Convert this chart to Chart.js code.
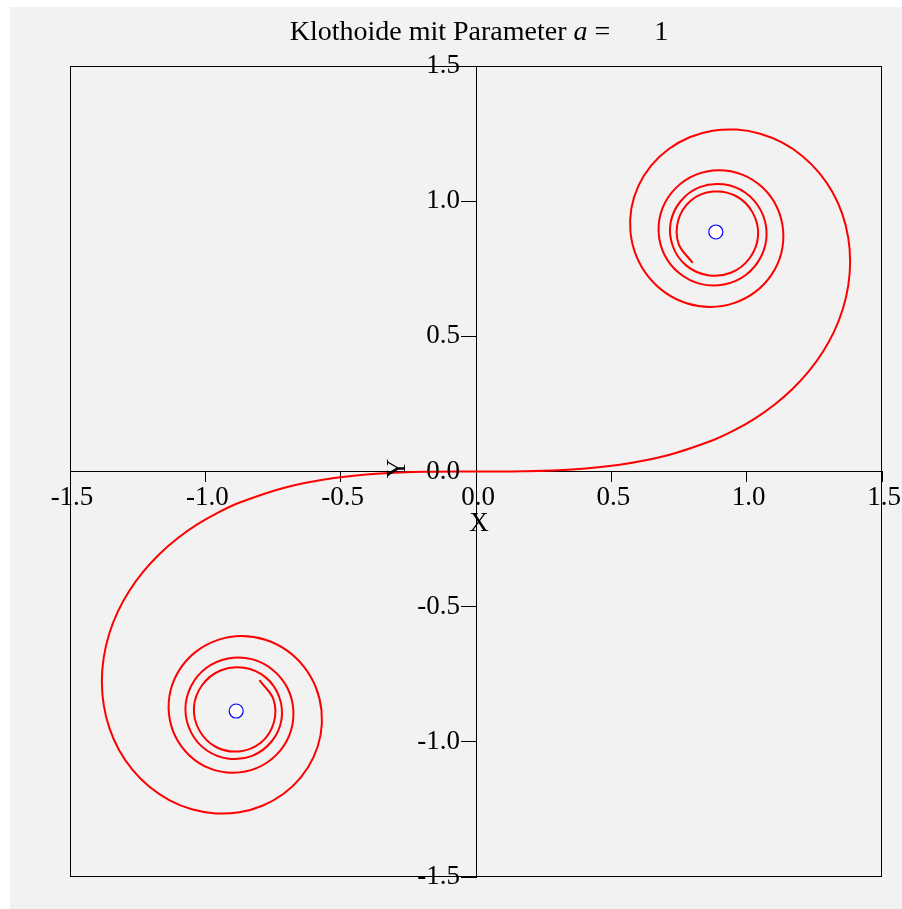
<!DOCTYPE html>
<html>
<head>
<meta charset="utf-8">
<title>Klothoide</title>
<script src="https://cdn.jsdelivr.net/npm/chart.js@4"></script>
<style>
  html, body { margin: 0; padding: 0; background: #fff; }
  canvas { display: block; }
</style>
</head>
<body>
<canvas id="klothoide" width="902" height="909"></canvas>
<script>
// Klothoide, a = 1: points along the arc, from the origin into the upper pole
const upperX = [
  0, 0.17723, 0.35435, 0.53067, 0.70452, 0.87265,
  0.95307, 1.02997, 1.10238, 1.16920, 1.22923, 1.28120, 1.32376, 1.35561, 1.37548, 1.38232,
  1.37523, 1.35380, 1.31789, 1.26808, 1.20539, 1.13180, 1.04974, 0.96262, 0.87427, 0.78920,
  0.71214, 0.64776, 0.60057, 0.57397, 0.57070, 0.59134, 0.63531, 0.69918, 0.77827, 0.86540,
  0.95254, 1.03079, 1.09149, 1.12779, 1.13442, 1.11055, 1.05795, 0.98364, 0.89706, 0.81074,
  0.73775, 0.68938, 0.67462, 0.69567, 0.75042, 0.82860, 0.91645, 0.99679, 1.05293, 1.07361,
  1.05265, 0.99541, 0.91346, 0.82653, 0.75602, 0.71909, 0.72725, 0.77721, 0.85717, 0.94396,
  1.01211, 1.04212, 1.02232, 0.96058, 0.87490, 0.79424, 0.74716, 0.74856, 0.80035
];
const upperY = [
  0, 0.00092, 0.00743, 0.02503, 0.05913, 0.11473,
  0.15193, 0.19593, 0.24697, 0.30511, 0.37025, 0.44194, 0.51953, 0.60203, 0.68844, 0.77680,
  0.86504, 0.95092, 1.03184, 1.10495, 1.16743, 1.21649, 1.24956, 1.26470, 1.26038, 1.23631,
  1.19295, 1.13240, 1.05768, 0.97343, 0.88513, 0.79927, 0.72265, 0.66175, 0.62249, 0.60870,
  0.62274, 0.66338, 0.72738, 0.80771, 0.89564, 0.98043, 1.05114, 1.09837, 1.11455, 1.09747,
  1.04827, 0.97483, 0.88816, 0.80289, 0.73404, 0.69397, 0.69165, 0.72696, 0.79447, 0.87969,
  0.96487, 1.03124, 1.06236, 1.05169, 0.99972, 0.92042, 0.83327, 0.76154, 0.72617, 0.73601,
  0.79067, 0.87259, 0.95761, 1.01912, 1.03533, 1.00253, 0.92918, 0.84215, 0.77206
];
// ... and from the origin into the lower pole
const lowerX = [
  0, -0.17723, -0.35435, -0.53067, -0.70452, -0.87265,
  -0.95307, -1.02997, -1.10238, -1.16920, -1.22923, -1.28120, -1.32376, -1.35561, -1.37548, -1.38232,
  -1.37523, -1.35380, -1.31789, -1.26808, -1.20539, -1.13180, -1.04974, -0.96262, -0.87427, -0.78920,
  -0.71214, -0.64776, -0.60057, -0.57397, -0.57070, -0.59134, -0.63531, -0.69918, -0.77827, -0.86540,
  -0.95254, -1.03079, -1.09149, -1.12779, -1.13442, -1.11055, -1.05795, -0.98364, -0.89706, -0.81074,
  -0.73775, -0.68938, -0.67462, -0.69567, -0.75042, -0.82860, -0.91645, -0.99679, -1.05293, -1.07361,
  -1.05265, -0.99541, -0.91346, -0.82653, -0.75602, -0.71909, -0.72725, -0.77721, -0.85717, -0.94396,
  -1.01211, -1.04212, -1.02232, -0.96058, -0.87490, -0.79424, -0.74716, -0.74856, -0.80035
];
const lowerY = [
  0, -0.00092, -0.00743, -0.02503, -0.05913, -0.11473,
  -0.15193, -0.19593, -0.24697, -0.30511, -0.37025, -0.44194, -0.51953, -0.60203, -0.68844, -0.77680,
  -0.86504, -0.95092, -1.03184, -1.10495, -1.16743, -1.21649, -1.24956, -1.26470, -1.26038, -1.23631,
  -1.19295, -1.13240, -1.05768, -0.97343, -0.88513, -0.79927, -0.72265, -0.66175, -0.62249, -0.60870,
  -0.62274, -0.66338, -0.72738, -0.80771, -0.89564, -0.98043, -1.05114, -1.09837, -1.11455, -1.09747,
  -1.04827, -0.97483, -0.88816, -0.80289, -0.73404, -0.69397, -0.69165, -0.72696, -0.79447, -0.87969,
  -0.96487, -1.03124, -1.06236, -1.05169, -0.99972, -0.92042, -0.83327, -0.76154, -0.72617, -0.73601,
  -0.79067, -0.87259, -0.95761, -1.01912, -1.03533, -1.00253, -0.92918, -0.84215, -0.77206
];
// the two limit points of the spiral
const poleX = [0.886, -0.886];
const poleY = [0.886, -0.886];

const tickLabels = ['-1.5', '-1.0', '-0.5', '0.0', '0.5', '1.0', '1.5'];
const titleParts = ['Klothoide mit Parameter ', 'a', ' =', '1'];
const axisNames = ['X', 'Y'];

const serif = '"Liberation Serif", "Times New Roman", serif';
const toPoints = (xs, ys) => xs.map((x, i) => ({ x: x, y: ys[i] }));

// gray page, plot frame, title, axis names and the y tick labels
const frameAndLabels = {
  id: 'frameAndLabels',
  beforeDraw(chart) {
    const { ctx, width, height } = chart;
    ctx.save();
    ctx.fillStyle = '#ffffff';
    ctx.fillRect(0, 0, width, height);
    ctx.fillStyle = '#f2f2f2';
    ctx.fillRect(10, 7, width - 10, height - 7);
    ctx.restore();
  },
  beforeDatasetsDraw(chart) {
    const { ctx, chartArea: a } = chart;
    ctx.save();
    ctx.strokeStyle = '#000';
    ctx.lineWidth = 1;
    ctx.strokeRect(a.left + 0.5, a.top + 0.5, a.right - a.left - 1, a.bottom - a.top - 1);
    ctx.restore();
  },
  afterDraw(chart) {
    const { ctx, chartArea: a } = chart;
    const xs = chart.scales.x, ys = chart.scales.y;
    const x0 = xs.getPixelForValue(0);
    const y0 = ys.getPixelForValue(0);
    ctx.save();
    ctx.fillStyle = '#000';

    // y tick labels sit left of the centre axis, past the tick marks
    ctx.font = '27px ' + serif;
    ctx.textAlign = 'right';
    ctx.textBaseline = 'middle';
    ys.ticks.forEach((t, i) => {
      ctx.fillText(tickLabels[i], x0 - 16, ys.getPixelForValue(t.value));
    });

    // title: plain text, italic "a", then the value after a gap
    ctx.textBaseline = 'alphabetic';
    const fonts = ['28px ' + serif, 'italic 28px ' + serif, '28px ' + serif, '28px ' + serif];
    const gap = 44;
    const widths = titleParts.map((t, i) => { ctx.font = fonts[i]; return ctx.measureText(t).width; });
    const total = widths.reduce((s, w) => s + w, 0) + gap;
    let tx = (a.left + a.right) / 2 + 3 - total / 2;
    const ty = a.top - 26;
    ctx.textAlign = 'left';
    titleParts.forEach((t, i) => {
      if (i === 3) tx += gap;
      ctx.font = fonts[i];
      ctx.fillText(t, tx, ty);
      tx += widths[i];
    });

    ctx.font = '27px ' + serif;
    ctx.textAlign = 'center';
    ctx.fillText(axisNames[0], x0 + 3, y0 + 59);

    ctx.translate(x0 - 71, y0 - 3);
    ctx.rotate(-Math.PI / 2);
    ctx.fillText(axisNames[1], 0, 0);
    ctx.restore();
  }
};

const tickFont = { family: serif, size: 27 };

new Chart(document.getElementById('klothoide'), {
  type: 'scatter',
  data: {
    datasets: [
      {
        data: toPoints(poleX, poleY),
        pointRadius: 7,
        pointBorderWidth: 1.2,
        pointBorderColor: '#0000ff',
        pointBackgroundColor: '#ffffff',
        showLine: false,
        order: 0
      },
      {
        data: toPoints(upperX, upperY),
        showLine: true,
        borderColor: '#ff0000',
        borderWidth: 2,
        pointRadius: 0,
        tension: 0.35,
        order: 1
      },
      {
        data: toPoints(lowerX, lowerY),
        showLine: true,
        borderColor: '#ff0000',
        borderWidth: 2,
        pointRadius: 0,
        tension: 0.35,
        order: 1
      }
    ]
  },
  options: {
    responsive: false,
    animation: false,
    events: [],
    layout: { padding: { left: 70, right: 20, top: 66, bottom: 32 } },
    plugins: {
      legend: { display: false },
      tooltip: { enabled: false },
      title: { display: false }
    },
    scales: {
      x: {
        type: 'linear',
        position: { y: 0 },
        min: -1.5,
        max: 1.5,
        ticks: {
          stepSize: 0.5,
          color: '#000',
          font: tickFont,
          padding: 0,
          labelOffset: 2,
          maxRotation: 0,
          autoSkip: false,
          callback: (v, i) => tickLabels[i]
        },
        grid: { drawOnChartArea: false, tickLength: 10, color: '#000' },
        border: { color: '#000', width: 1 }
      },
      y: {
        type: 'linear',
        position: { x: 0 },
        min: -1.5,
        max: 1.5,
        ticks: {
          stepSize: 0.5,
          display: false
        },
        grid: { drawOnChartArea: false, tickLength: 15, color: '#000' },
        border: { color: '#000', width: 1 }
      }
    }
  },
  plugins: [frameAndLabels]
});
</script>
</body>
</html>
